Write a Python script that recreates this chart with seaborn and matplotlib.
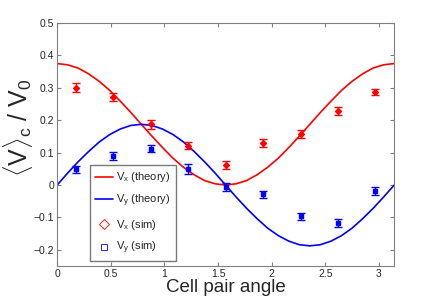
import numpy as np
import pandas as pd
import seaborn as sns
import matplotlib.pyplot as plt
from matplotlib.lines import Line2D

# theory curves
angle = [0.0, 0.098, 0.196, 0.295, 0.393, 0.491, 0.589, 0.687, 0.785, 0.884,
         0.982, 1.080, 1.178, 1.276, 1.374, 1.473, 1.571, 1.669, 1.767, 1.865,
         1.963, 2.062, 2.160, 2.258, 2.356, 2.454, 2.553, 2.651, 2.749, 2.847,
         2.945, 3.043, 3.142]
vx_theory = [0.375, 0.371, 0.361, 0.343, 0.320, 0.292, 0.259, 0.224, 0.1875,
             0.151, 0.116, 0.083, 0.055, 0.032, 0.014, 0.004, 0.0, 0.004,
             0.014, 0.032, 0.055, 0.083, 0.116, 0.151, 0.1875, 0.224, 0.259,
             0.292, 0.320, 0.343, 0.361, 0.371, 0.375]
vy_theory = [0.0, 0.037, 0.072, 0.104, 0.133, 0.156, 0.173, 0.184, 0.1875,
             0.184, 0.173, 0.156, 0.133, 0.104, 0.072, 0.037, 0.0, -0.037,
             -0.072, -0.104, -0.133, -0.156, -0.173, -0.184, -0.1875, -0.184,
             -0.173, -0.156, -0.133, -0.104, -0.072, -0.037, 0.0]

# simulation points
sim_angle = [0.175, 0.524, 0.873, 1.222, 1.571, 1.920, 2.269, 2.618, 2.967]
vx_sim = [0.300, 0.271, 0.187, 0.122, 0.062, 0.130, 0.158, 0.229, 0.287]
vy_sim = [0.049, 0.090, 0.112, 0.050, -0.006, -0.029, -0.096, -0.117, -0.019]
vx_err = [0.014, 0.012, 0.013, 0.011, 0.012, 0.013, 0.012, 0.013, 0.010]
vy_err = [0.011, 0.012, 0.011, 0.015, 0.012, 0.011, 0.011, 0.012, 0.012]

theory = pd.DataFrame({"angle": angle, "vx": vx_theory, "vy": vy_theory})

sns.set_style("ticks")
plt.rcParams["font.family"] = ["Liberation Sans", "DejaVu Sans"]
plt.rcParams["mathtext.fontset"] = "custom"
plt.rcParams["mathtext.rm"] = "Liberation Sans"
plt.rcParams["mathtext.it"] = "Liberation Sans"

fig = plt.figure(figsize=(4.36, 2.99), dpi=100)
ax = fig.add_axes([0.131, 0.110, 0.773, 0.813])

sns.lineplot(data=theory, x="angle", y="vx", color="red", lw=1.2, ax=ax)
sns.lineplot(data=theory, x="angle", y="vy", color="blue", lw=1.2, ax=ax)

ax.errorbar(sim_angle, vx_sim, yerr=vx_err, fmt="D", color="red", ms=3,
            capsize=3, elinewidth=1, capthick=1)
ax.errorbar(sim_angle, vy_sim, yerr=vy_err, fmt="s", color="blue", ms=3,
            capsize=3, elinewidth=1, capthick=1)

ax.set_xlim(0, np.pi)
ax.set_ylim(-0.25, 0.5)
ax.set_xticks([0, 0.5, 1, 1.5, 2, 2.5, 3])
ax.set_xticklabels(["0", "0.5", "1", "1.5", "2", "2.5", "3"])
ax.set_yticks([-0.2, -0.1, 0, 0.1, 0.2, 0.3, 0.4, 0.5])
ax.set_yticklabels(["\u22120.2", "\u22120.1", "0", "0.1", "0.2", "0.3", "0.4", "0.5"])
ax.tick_params(direction="in", top=True, right=True, labelsize=7.5,
               color="0.5", length=3, pad=2)
for s in ax.spines.values():
    s.set_color("0.5")
    s.set_linewidth(0.8)

ax.set_xlabel("Cell pair angle", fontsize=13.5, labelpad=0)
ax.set_ylabel(r"$\langle$V$\rangle_\mathrm{c}$ / V$_0$", fontsize=18)
ax.yaxis.set_label_coords(-0.065, 0.57)

handles = [
    Line2D([], [], color="red", lw=1.2),
    Line2D([], [], color="blue", lw=1.2),
    Line2D([], [], ls="", marker="D", mfc="none", mec="red", ms=5, mew=0.6),
    Line2D([], [], ls="", marker="s", mfc="none", mec="blue", ms=5, mew=0.6),
]
labels = [r"V$_x$ (theory)", r"V$_y$ (theory)", r"V$_x$ (sim)", r"V$_y$ (sim)"]
leg = ax.legend(handles, labels, loc="lower left", bbox_to_anchor=(0.098, 0.02),
                borderaxespad=0, fontsize=8, frameon=True, fancybox=False,
                labelspacing=0.75, handlelength=1.6, handletextpad=0.3,
                borderpad=0.45)
leg.get_frame().set_edgecolor("0.35")
leg.get_frame().set_linewidth(1.0)

fig.savefig("out.png", dpi=100)
